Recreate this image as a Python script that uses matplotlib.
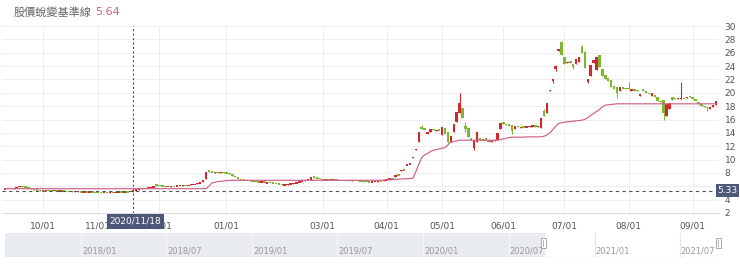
import numpy as np
import pandas as pd
import matplotlib
matplotlib.use("Agg")
import matplotlib.pyplot as plt
import matplotlib.dates as mdates
from matplotlib.patches import Rectangle

plt.rcParams['font.family'] = ['DejaVu Sans', 'Noto Sans CJK TC']

# trading days (Taiwan market holidays removed)
holidays = ["2020-10-01", "2020-10-02", "2020-10-09", "2021-01-01",
            "2021-02-08", "2021-02-09", "2021-02-10", "2021-02-11", "2021-02-12",
            "2021-02-15", "2021-02-16", "2021-03-01", "2021-04-02", "2021-04-05",
            "2021-04-30", "2021-06-14"]
dates = pd.bdate_range("2020-09-14", "2021-09-13")
dates = dates[~dates.isin(pd.to_datetime(holidays))]

opens = [5.60, 5.62, 5.66, 5.64, 5.70, 5.85, 6.02, 5.95, 5.82, 5.72,
         5.60, 5.48, 5.40, 5.32, 5.36, 5.40, 5.33, 5.30, 5.35, 5.28,
         5.30, 5.26, 5.24, 5.22, 5.20, 5.22, 5.18, 5.15, 5.17, 5.12,
         5.18, 5.12, 5.12, 5.10, 5.08, 5.10, 5.06, 5.10, 5.08, 5.12,
         5.15, 5.13, 5.16, 5.14, 5.20, 5.38, 5.50, 5.60, 5.68, 5.75,
         5.80, 5.88, 6.25, 6.10, 6.05, 6.00, 5.92, 5.95, 6.02, 6.00,
         6.05, 6.10, 6.15, 6.12, 6.18, 6.28, 6.32, 6.42, 6.60, 7.15,
         8.45, 8.20, 8.00, 8.15, 8.05, 8.10, 8.00, 7.95, 7.90, 7.60,
         7.40, 7.15, 6.98, 6.90, 6.92, 6.85, 6.70, 6.66, 6.62, 6.68,
         6.45, 6.55, 6.50, 6.48, 6.42, 6.30, 6.15, 6.25, 6.30, 6.35,
         6.42, 6.60, 6.72, 6.85, 6.95, 7.00, 7.45, 7.30, 7.15, 7.10,
         7.00, 7.02, 6.98, 7.00, 6.95, 6.90, 6.92, 6.88, 6.90, 6.85,
         6.90, 6.88, 6.85, 6.78, 6.70, 6.65, 6.62, 6.66, 6.70, 6.75,
         6.75, 6.90, 7.00, 7.15, 7.35, 7.75, 8.30, 8.45, 9.15, 9.30,
         10.30, 11.40, 12.65, 14.90, 14.65, 13.90, 14.20, 14.60, 14.30, 14.50,
         13.65, 14.80, 14.10, 12.70, 14.10, 15.60, 17.00, 17.70, 15.00, 14.70,
         13.30, 11.70, 12.60, 13.30, 12.90, 13.20, 12.90, 12.60, 12.80, 12.90,
         14.60, 15.60, 15.40, 15.30, 15.20, 14.60, 15.00, 14.80, 14.95, 14.85,
         14.90, 14.90, 15.20, 14.90, 14.80, 17.30, 17.00, 20.30, 21.90, 23.60,
         26.20, 27.65, 25.40, 24.50, 24.80, 24.30, 24.30, 24.60, 26.90, 26.10,
         21.60, 22.50, 24.50, 23.40, 25.60, 23.50, 22.60, 22.20, 21.90, 21.00,
         20.90, 20.20, 20.80, 20.70, 20.70, 20.30, 20.50, 20.40, 19.50, 20.50,
         20.30, 19.90, 19.50, 19.60, 19.30, 18.80, 18.90, 16.50, 17.60, 19.40,
         19.20, 19.10, 19.10, 19.20, 19.20, 19.50, 19.40, 19.00, 18.60, 18.30,
         18.00, 17.80, 17.60, 17.90, 18.20]

closes = [5.62, 5.66, 5.64, 5.70, 5.85, 6.02, 5.95, 5.82, 5.72, 5.60,
          5.48, 5.40, 5.32, 5.36, 5.40, 5.33, 5.30, 5.35, 5.28, 5.30,
          5.26, 5.24, 5.22, 5.20, 5.22, 5.18, 5.15, 5.17, 5.14, 5.18,
          5.12, 5.10, 5.10, 5.08, 5.10, 5.06, 5.10, 5.08, 5.12, 5.15,
          5.13, 5.16, 5.14, 5.20, 5.38, 5.50, 5.60, 5.68, 5.75, 5.80,
          5.88, 5.95, 6.10, 6.05, 6.00, 5.92, 5.95, 6.02, 6.00, 6.05,
          6.10, 6.15, 6.12, 6.18, 6.28, 6.32, 6.42, 6.55, 7.00, 8.10,
          8.20, 8.10, 8.20, 8.05, 8.10, 8.00, 7.95, 7.85, 7.60, 7.40,
          7.15, 6.98, 6.90, 6.92, 6.85, 6.70, 6.66, 6.62, 6.68, 6.60,
          6.55, 6.50, 6.48, 6.42, 6.30, 6.15, 6.25, 6.30, 6.35, 6.42,
          6.60, 6.72, 6.85, 6.95, 7.00, 7.45, 7.30, 7.15, 7.10, 7.00,
          7.02, 6.98, 7.00, 6.95, 6.90, 6.92, 6.88, 6.90, 6.85, 6.90,
          6.88, 6.85, 6.78, 6.70, 6.65, 6.62, 6.66, 6.70, 6.75, 6.72,
          6.90, 7.00, 7.15, 7.10, 7.70, 7.65, 8.45, 8.40, 9.25, 9.40,
          10.40, 11.65, 14.15, 14.65, 14.50, 14.20, 14.60, 14.40, 14.50, 14.40,
          14.85, 13.90, 12.65, 13.50, 15.40, 17.10, 18.50, 16.20, 14.60, 13.40,
          13.00, 12.90, 14.10, 12.90, 13.10, 12.90, 12.70, 12.80, 13.00, 14.00,
          15.50, 15.30, 15.20, 15.00, 14.30, 15.00, 14.90, 14.90, 14.85, 14.95,
          15.00, 15.20, 14.90, 15.00, 16.20, 16.50, 18.50, 20.35, 21.95, 24.00,
          26.60, 25.65, 24.30, 24.65, 24.40, 23.90, 25.10, 25.40, 25.90, 23.70,
          22.10, 24.20, 24.90, 25.40, 23.90, 22.50, 22.10, 21.80, 20.90, 20.60,
          20.00, 20.80, 20.60, 20.50, 20.60, 20.50, 20.30, 20.20, 19.80, 20.20,
          20.00, 19.80, 19.90, 19.30, 18.80, 18.60, 17.00, 18.30, 18.50, 18.90,
          19.10, 19.20, 19.20, 19.15, 19.30, 19.35, 19.00, 18.80, 18.30, 18.00,
          17.80, 17.70, 17.85, 18.20, 18.70]

# wicks that stick out beyond the body
wick_hi = {143: 15.2, 156: 19.9, 158: 15.6, 185: 17.5, 188: 22.0, 189: 24.1,
           191: 27.8, 198: 27.2, 199: 26.3, 214: 21.65, 232: 21.65}
wick_lo = {152: 12.5, 158: 14.2, 161: 11.4, 174: 13.9, 188: 21.5, 189: 23.2,
           195: 23.5, 200: 21.4, 210: 19.2, 226: 15.9, 241: 17.3}

baseline = [5.64, 5.64, 5.64, 5.64, 5.64, 5.64, 5.64, 5.64, 5.64, 5.64,
            5.64, 5.64, 5.64, 5.64, 5.64, 5.64, 5.64, 5.64, 5.64, 5.64,
            5.64, 5.64, 5.64, 5.64, 5.64, 5.64, 5.64, 5.64, 5.64, 5.64,
            5.64, 5.64, 5.64, 5.64, 5.64, 5.64, 5.64, 5.64, 5.64, 5.64,
            5.64, 5.64, 5.64, 5.64, 5.64, 5.64, 5.64, 5.64, 5.64, 5.64,
            5.64, 5.64, 5.64, 5.64, 5.64, 5.64, 5.64, 5.64, 5.64, 5.64,
            5.64, 5.64, 5.64, 5.64, 5.64, 5.64, 5.64, 5.64, 5.64, 5.64,
            6.00, 6.50, 6.60, 6.70, 6.75, 6.80, 6.85, 6.88, 6.90, 6.90,
            6.90, 6.90, 6.90, 6.90, 6.90, 6.90, 6.90, 6.90, 6.90, 6.90,
            6.90, 6.90, 6.90, 6.90, 6.90, 6.90, 6.90, 6.90, 6.90, 6.90,
            6.90, 6.90, 6.90, 6.90, 6.90, 6.90, 6.90, 6.90, 6.90, 6.90,
            6.90, 6.90, 6.90, 6.90, 6.90, 6.90, 6.90, 6.90, 6.90, 6.90,
            6.90, 6.90, 6.90, 6.90, 6.90, 6.90, 6.90, 6.90, 6.90, 6.90,
            6.92, 6.95, 7.00, 7.00, 7.05, 7.05, 7.10, 7.10, 7.15, 7.15,
            7.20, 8.20, 9.30, 10.30, 10.70, 10.90, 11.20, 11.40, 11.50, 11.60,
            11.70, 11.80, 12.20, 12.60, 12.70, 12.80, 12.90, 12.90, 12.90, 12.90,
            12.90, 12.90, 12.90, 12.90, 12.90, 12.90, 12.90, 12.90, 12.90, 12.90,
            13.00, 13.10, 13.20, 13.30, 13.35, 13.35, 13.35, 13.35, 13.35, 13.40,
            13.40, 13.40, 13.40, 13.40, 13.40, 13.50, 13.70, 14.00, 14.50, 15.00,
            15.40, 15.50, 15.60, 15.65, 15.70, 15.75, 15.80, 15.85, 15.90, 16.00,
            16.30, 16.60, 16.90, 17.20, 17.50, 17.90, 18.15, 18.20, 18.25, 18.30,
            18.35, 18.35, 18.35, 18.35, 18.35, 18.35, 18.35, 18.35, 18.35, 18.35,
            18.35, 18.35, 18.35, 18.35, 18.35, 18.35, 18.35, 18.35, 18.35, 18.35,
            18.35, 18.35, 18.35, 18.35, 18.35, 18.35, 18.35, 18.35, 18.35, 18.35,
            18.35, 18.35, 18.35, 18.35, 18.35]

ref_price = 5.33
cross_date = "2020-11-18"
title = "股價蛻變基準線"
title_value = "5.64"
yticks = [2, 4, 6, 8, 10, 12, 14, 16, 18, 20, 22, 24, 26, 28, 30]
hidden_months = ["02/01"]
nav_labels = ["2018/01", "2018/07", "2019/01", "2019/07",
              "2020/01", "2020/07", "2021/01", "2021/07"]

RED = "#d4262e"
GREEN = "#7db72f"
PINK = "#cf5f88"
TAG = "#4d5779"

W, H = 740, 274
fig = plt.figure(figsize=(W / 100, H / 100), dpi=100)

def fx(px):
    return px / W

def fy(py):
    return 1 - py / H

ax = fig.add_axes([fx(2), fy(213), fx(717), 187 / H])
o = np.array(opens)
c = np.array(closes)
x = np.arange(len(c))
up = c >= o
cols = np.where(up, RED, GREEN)
hi = np.maximum(o, c)
lo = np.minimum(o, c)
for k, v in wick_hi.items():
    hi[k] = v
for k, v in wick_lo.items():
    lo[k] = v
ax.vlines(x, lo, hi, colors=cols, lw=0.8, zorder=3)
body_h = np.maximum(np.abs(c - o), 0.2)
body_b = np.minimum(o, c) - (body_h - np.abs(c - o)) / 2
ax.bar(x, body_h, bottom=body_b, width=0.85, color=cols, zorder=4, linewidth=0)
ax.plot(x, baseline, color=PINK, lw=0.85, zorder=5)

ax.set_xlim(-1.03, 245.03)
ax.set_ylim(2, 30)

# month ticks
month_idx, month_lab = [], []
prev = None
for i, d in enumerate(dates):
    if d.month != prev and i > 0:
        lab = f"{d.month:02d}/01"
        if lab not in hidden_months:
            month_idx.append(i)
            month_lab.append(lab)
    prev = d.month
ax.set_xticks(month_idx)
ax.set_xticklabels(month_lab, fontsize=6.5, color="#555555")
ax.set_yticks(yticks)
# the "6" label sits under the 5.33 price tag
ax.set_yticklabels(["" if v == 6 else str(v) for v in yticks], fontsize=6.5, color="#555555")
ax.yaxis.tick_right()
ax.tick_params(axis="both", length=0)
ax.tick_params(axis="x", pad=6)
ax.tick_params(axis="y", pad=4)
for s in ["top", "left", "right"]:
    ax.spines[s].set_visible(False)
ax.spines["bottom"].set_color("#dddddd")
ax.grid(True, color="#eeeeee", lw=0.7, zorder=0)

ax.axhline(ref_price, color="#555555", lw=0.8, ls=(0, (3, 3)), zorder=6)
ci = dates.get_loc(pd.Timestamp(cross_date))
ax.axvline(ci, color="#555555", lw=0.8, ls=(0, (2, 2)), zorder=6)

fig.text(fx(727.5), fy(190.5), f"{ref_price:.2f}", color="white", fontsize=6.5,
         ha="center", va="center", zorder=10,
         bbox=dict(boxstyle="square,pad=0.2", fc=TAG, ec="none"))
fig.text(fx(135.5), fy(221.5), pd.Timestamp(cross_date).strftime("%Y/%m/%d"),
         color="white", fontsize=6.5, ha="center", va="center", zorder=10,
         bbox=dict(boxstyle="square,pad=0.3", fc=TAG, ec="none"))

fig.text(fx(14), fy(12), title, color="#666666", fontsize=8, va="center",
         family=["Noto Sans CJK TC", "DejaVu Sans"])
fig.text(fx(95), fy(12), title_value, color=PINK, fontsize=8, va="center")

# navigator
nav = fig.add_axes([fx(5), fy(257), fx(713), 24 / H])
n0 = mdates.date2num(pd.Timestamp("2017-07-22"))
n1 = mdates.date2num(pd.Timestamp("2021-09-21"))
s0 = mdates.date2num(dates[0])
nav.set_xlim(n0, n1)
nav.set_ylim(0, 1)
nav.axis("off")
nav.axvspan(n0, s0, color="#e8ebef", zorder=0)
for lab in nav_labels:
    xd = mdates.date2num(pd.Timestamp(lab.replace("/", "-") + "-01"))
    lc = "#f7f7f7" if xd < s0 else "#e6e6e6"
    nav.axvline(xd, color=lc, lw=0.8, zorder=1)
    nav.text(xd + 2, 0.25, lab, fontsize=6, color="#9a9a9a", va="center", ha="left", zorder=2)
nav.plot([s0, n1], [0.005, 0.005], color="#cfcfcf", lw=0.8, zorder=3)
nav.plot([n1, n1], [0, 1], color="#dddddd", lw=0.8, zorder=3)
for hxp in [543, 718]:
    fig.add_artist(Rectangle((fx(hxp - 2.5), fy(248)), fx(5), 10 / H,
                             transform=fig.transFigure, fc="white", ec="#aaaaaa", lw=0.7, zorder=10))
    fig.add_artist(plt.Line2D([fx(hxp), fx(hxp)], [fy(246), fy(240)],
                              transform=fig.transFigure, color="#aaaaaa", lw=0.6, zorder=11))

fig.savefig("out.png", dpi=100)
